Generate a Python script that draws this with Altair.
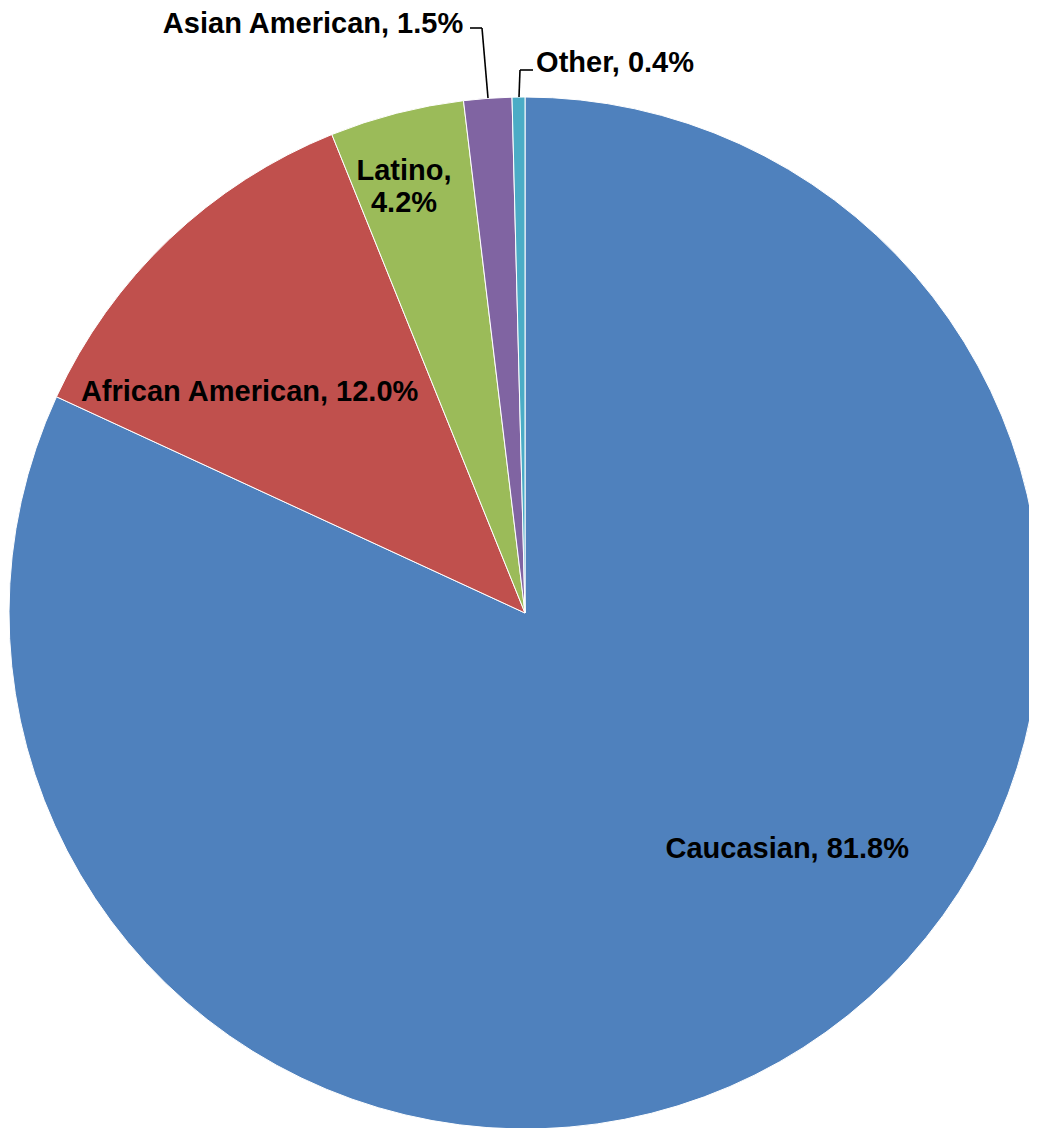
import altair as alt
import pandas as pd

categories = ["Caucasian", "African American", "Latino", "Asian American", "Other"]
values = [81.8, 12.0, 4.2, 1.5, 0.4]
labels = ["Caucasian, 81.8%", "African American, 12.0%", "Latino,\n4.2%",
          "Asian American, 1.5%", "Other, 0.4%"]
colors = ["#4F81BD", "#C0504D", "#9BBB59", "#8064A2", "#4BACC6"]

df = pd.DataFrame({"category": categories, "value": values,
                   "label": labels, "idx": list(range(len(categories)))})

CX, CY, R = 517, 605, 516
FONT = "Liberation Sans"

base = alt.Chart(df)

theta = alt.Theta("value:Q", stack=True)
order = alt.Order("idx:Q", sort="ascending")

pie = base.mark_arc(stroke="white", strokeWidth=1).encode(
    theta=theta,
    order=order,
    color=alt.Color("category:N", scale=alt.Scale(domain=categories, range=colors), legend=None),
    x=alt.value(CX), y=alt.value(CY), radius=alt.value(R),
)

# label settings: (category, radius, dx, dy, align)
label_cfg = [
    ("Caucasian", 340, 79, -50, "center"),
    ("African American", 350, -34, 32, "center"),
    ("Latino", 458, -7, 2, "center"),
    ("Asian American", 592, -19, 1, "right"),
    ("Other", 550, 18, 0, "left"),
]

layers = [pie]
for cat, r, dx, dy, align in label_cfg:
    layers.append(
        base.mark_text(font=FONT, fontSize=29, fontWeight="bold", color="black",
                       align=align, baseline="middle", dx=dx, dy=dy,
                       lineBreak="\n", lineHeight=32).encode(
            theta=theta,
            order=order,
            x=alt.value(CX), y=alt.value(CY), radius=alt.value(r),
            text=alt.condition(alt.datum.category == cat, alt.Text("label:N"), alt.value("")),
        )
    )

# leader lines for the small slices
leader = [
    (480, 90, 474, 20), (474, 20, 462, 20),
    (511, 89, 512, 62), (512, 62, 525, 62),
]
for x1, y1, x2, y2 in leader:
    layers.append(
        alt.Chart(pd.DataFrame({"a": [0]})).mark_rule(color="black", strokeWidth=1.6).encode(
            x=alt.value(x1), y=alt.value(y1), x2=alt.value(x2), y2=alt.value(y2)
        )
    )

chart = alt.layer(*layers).properties(
    width=1021, height=1120, padding=0,
    autosize=alt.AutoSizeParams(type="none"),
).configure_view(stroke=None)

chart.save("out.html", embed_options={"renderer": "svg", "actions": False})
